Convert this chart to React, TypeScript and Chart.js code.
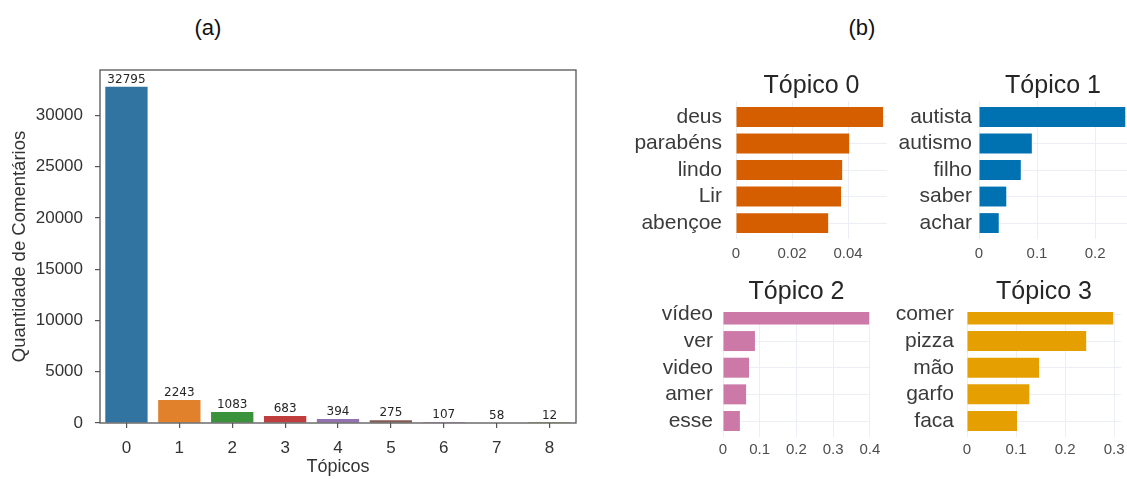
import React, { useEffect, useRef } from "react";
import { Chart, registerables } from "chart.js";

Chart.register(...registerables);

// Panel (a): number of comments per topic
const topicIds = ["0", "1", "2", "3", "4", "5", "6", "7", "8"];
const commentCounts = [32795, 2243, 1083, 683, 394, 275, 107, 58, 12];
const topicColors = ["#3274a1", "#e1812c", "#3a923a", "#c03d3e", "#9372b2", "#845b53", "#d684bd", "#7f7f7f", "#a9aa35"];
const countTicks = [0, 5000, 10000, 15000, 20000, 25000, 30000];

// Panel (b): top words of each topic
const topic0Words = ["deus", "parabéns", "lindo", "Lir", "abençoe"];
const topic0Weights = [0.0525, 0.0404, 0.0379, 0.0375, 0.0329];
const topic0Ticks = [0, 0.02, 0.04];

const topic1Words = ["autista", "autismo", "filho", "saber", "achar"];
const topic1Weights = [0.252, 0.091, 0.072, 0.047, 0.034];
const topic1Ticks = [0, 0.1, 0.2];

const topic2Words = ["vídeo", "ver", "video", "amer", "esse"];
const topic2Weights = [0.398, 0.087, 0.071, 0.063, 0.046];
const topic2Ticks = [0, 0.1, 0.2, 0.3, 0.4];

const topic3Words = ["comer", "pizza", "mão", "garfo", "faca"];
const topic3Weights = [0.298, 0.243, 0.147, 0.127, 0.102];
const topic3Ticks = [0, 0.1, 0.2, 0.3];

const SANS = "'Liberation Sans', Arial, sans-serif";

// Draws the closed frame around the plotting area (matplotlib-like spines)
const framePlugin = {
  id: "frame",
  afterDatasetsDraw(chart: any) {
    const { ctx, chartArea } = chart;
    ctx.save();
    ctx.strokeStyle = "#555555";
    ctx.lineWidth = 1.3;
    ctx.strokeRect(chartArea.left, chartArea.top, chartArea.right - chartArea.left, chartArea.bottom - chartArea.top);
    ctx.restore();
  },
};

// Writes each bar's value above it
const valueLabelPlugin = {
  id: "valueLabels",
  afterDatasetsDraw(chart: any) {
    const { ctx } = chart;
    const meta = chart.getDatasetMeta(0);
    const values = chart.data.datasets[0].data as number[];
    ctx.save();
    ctx.font = "12px 'DejaVu Sans', sans-serif";
    ctx.fillStyle = "#262626";
    ctx.textAlign = "center";
    ctx.textBaseline = "bottom";
    meta.data.forEach((bar: any, i: number) => {
      ctx.fillText(String(values[i]), bar.x, bar.y - 1);
    });
    ctx.restore();
  },
};

// Fixes an axis box size and drops the extra edge padding reserved for labels
const fixWidth = (w: number) => (s: any) => {
  s.width = w;
  s.paddingTop = 0;
  s.paddingBottom = 0;
};
const fixHeight = (h: number) => (s: any) => {
  s.height = h;
  s.paddingLeft = 0;
  s.paddingRight = 0;
};

function CountChart() {
  const ref = useRef<HTMLCanvasElement>(null);
  useEffect(() => {
    const chart = new Chart(ref.current!, {
      type: "bar",
      data: {
        labels: topicIds,
        datasets: [
          {
            data: commentCounts,
            backgroundColor: topicColors,
            borderWidth: 0,
            barPercentage: 0.8,
            categoryPercentage: 1,
          },
        ],
      },
      options: {
        animation: false,
        responsive: false,
        maintainAspectRatio: false,
        layout: { padding: { top: 30, right: 24, left: 0, bottom: 0 } },
        plugins: { legend: { display: false }, tooltip: { enabled: false } },
        scales: {
          x: {
            grid: { offset: false, drawOnChartArea: false, color: "#555555", tickLength: 5, lineWidth: 1.2 },
            border: { display: false },
            ticks: { color: "#333333", font: { family: SANS, size: 17 }, padding: 10, autoSkip: false },
            title: {
              display: true,
              text: "Tópicos",
              color: "#333333",
              font: { family: SANS, size: 18 },
              padding: { top: 0, bottom: 1 },
            },
            afterFit: fixHeight(56),
          },
          y: {
            min: 0,
            max: 34435,
            afterBuildTicks: (s: any) => {
              s.ticks = countTicks.map((v) => ({ value: v }));
            },
            grid: { drawOnChartArea: false, color: "#555555", tickLength: 5, lineWidth: 1.2 },
            border: { display: false },
            ticks: {
              color: "#333333",
              font: { family: SANS, size: 17 },
              padding: 12,
              autoSkip: false,
              callback: (v: any) => String(v),
            },
            title: {
              display: true,
              text: "Quantidade de Comentários",
              color: "#333333",
              font: { family: SANS, size: 18.5 },
              padding: { top: 9, bottom: 0 },
            },
            afterFit: fixWidth(100),
          },
        },
      },
      plugins: [framePlugin, valueLabelPlugin],
    });
    return () => chart.destroy();
  }, []);
  return (
    <canvas
      ref={ref}
      width={600}
      height={439}
      style={{ position: "absolute", left: 0, top: 40, display: "block" }}
    />
  );
}

type TopicProps = {
  title: string;
  words: string[];
  weights: number[];
  ticks: number[];
  xMax: number;
  yMin: number;
  color: string;
  left: number;
  top: number;
  width: number;
  height: number;
  yAxisWidth: number;
  xAxisHeight: number;
  padRight: number;
  labelGap: number;
  tickPad: number;
  titlePad: { top: number; bottom: number };
};

const fmtTick = (v: number) => String(Math.round(v * 1000) / 1000);

function TopicChart(p: TopicProps) {
  const ref = useRef<HTMLCanvasElement>(null);
  useEffect(() => {
    const chart = new Chart(ref.current!, {
      type: "bar",
      data: {
        datasets: [
          {
            data: p.words.map((_, i) => ({ x: p.weights[i], y: i })),
            backgroundColor: p.color,
            borderWidth: 0,
            barPercentage: 0.75,
            categoryPercentage: 1,
            clip: 0,
          } as any,
        ],
      },
      options: {
        indexAxis: "y",
        animation: false,
        responsive: false,
        maintainAspectRatio: false,
        layout: { padding: { left: 0, right: p.padRight, top: 0, bottom: 0 } },
        plugins: {
          legend: { display: false },
          tooltip: { enabled: false },
          title: {
            display: true,
            text: p.title,
            fullSize: false,
            color: "#262626",
            font: { family: SANS, size: 25, weight: "normal" },
            padding: p.titlePad,
          },
        },
        scales: {
          x: {
            type: "linear",
            min: 0,
            max: p.xMax,
            offset: false,
            afterBuildTicks: (s: any) => {
              s.ticks = p.ticks.map((v) => ({ value: v }));
            },
            grid: { color: "#ebeef5", drawTicks: false, lineWidth: 1, offset: false },
            border: { display: false },
            ticks: {
              color: "#4d4d4d",
              font: { family: SANS, size: 15 },
              padding: p.tickPad,
              maxRotation: 0,
              autoSkip: false,
              callback: (v: any) => fmtTick(Number(v)),
            },
            afterFit: fixHeight(p.xAxisHeight),
          },
          y: {
            type: "linear",
            reverse: true,
            offset: false,
            min: p.yMin,
            max: 4.6,
            afterBuildTicks: (s: any) => {
              s.ticks = p.words.map((_, i) => ({ value: i }));
            },
            grid: { color: "#ebeef5", drawTicks: false, lineWidth: 1, offset: false },
            border: { display: false },
            ticks: {
              color: "#3b3b3b",
              font: { family: SANS, size: 21 },
              padding: p.labelGap,
              autoSkip: false,
              callback: (v: any) => p.words[Number(v)] ?? "",
            },
            afterFit: fixWidth(p.yAxisWidth),
          },
        },
      },
    });
    return () => chart.destroy();
  }, []);
  return (
    <canvas
      ref={ref}
      width={p.width}
      height={p.height}
      style={{ position: "absolute", left: p.left, top: p.top, display: "block" }}
    />
  );
}

const panelLabel: React.CSSProperties = {
  position: "absolute",
  width: 100,
  textAlign: "center",
  fontFamily: SANS,
  fontSize: 22,
  lineHeight: "26px",
  color: "#111111",
};

export default function App() {
  return (
    <div
      style={{
        position: "absolute",
        left: 0,
        top: 0,
        width: 1127,
        height: 479,
        background: "#ffffff",
        overflow: "hidden",
      }}
    >
      <div style={{ ...panelLabel, left: 158, top: 15 }}>(a)</div>
      <div style={{ ...panelLabel, left: 812, top: 15 }}>(b)</div>
      <CountChart />
      <TopicChart
        title="Tópico 0"
        words={topic0Words}
        weights={topic0Weights}
        ticks={topic0Ticks}
        xMax={0.0539}
        yMin={-0.6}
        color="#d55e00"
        left={620}
        top={60}
        width={275}
        height={210}
        yAxisWidth={116}
        xAxisHeight={31}
        padRight={8}
        labelGap={14}
        tickPad={6}
        titlePad={{ top: 11, bottom: 0 }}
      />
      <TopicChart
        title="Tópico 1"
        words={topic1Words}
        weights={topic1Weights}
        ticks={topic1Ticks}
        xMax={0.255}
        yMin={-0.6}
        color="#0072b2"
        left={890}
        top={60}
        width={237}
        height={210}
        yAxisWidth={89}
        xAxisHeight={31}
        padRight={0}
        labelGap={7}
        tickPad={6}
        titlePad={{ top: 11, bottom: 0 }}
      />
      <TopicChart
        title="Tópico 2"
        words={topic2Words}
        weights={topic2Weights}
        ticks={topic2Ticks}
        xMax={0.4005}
        yMin={-0.09}
        color="#cc79a7"
        left={600}
        top={270}
        width={280}
        height={209}
        yAxisWidth={123}
        xAxisHeight={42}
        padRight={10}
        labelGap={10}
        tickPad={4}
        titlePad={{ top: 7, bottom: 5 }}
      />
      <TopicChart
        title="Tópico 3"
        words={topic3Words}
        weights={topic3Weights}
        ticks={topic3Ticks}
        xMax={0.314}
        yMin={-0.09}
        color="#e69f00"
        left={885}
        top={270}
        width={242}
        height={209}
        yAxisWidth={82}
        xAxisHeight={42}
        padRight={6}
        labelGap={13}
        tickPad={4}
        titlePad={{ top: 7, bottom: 5 }}
      />
    </div>
  );
}
